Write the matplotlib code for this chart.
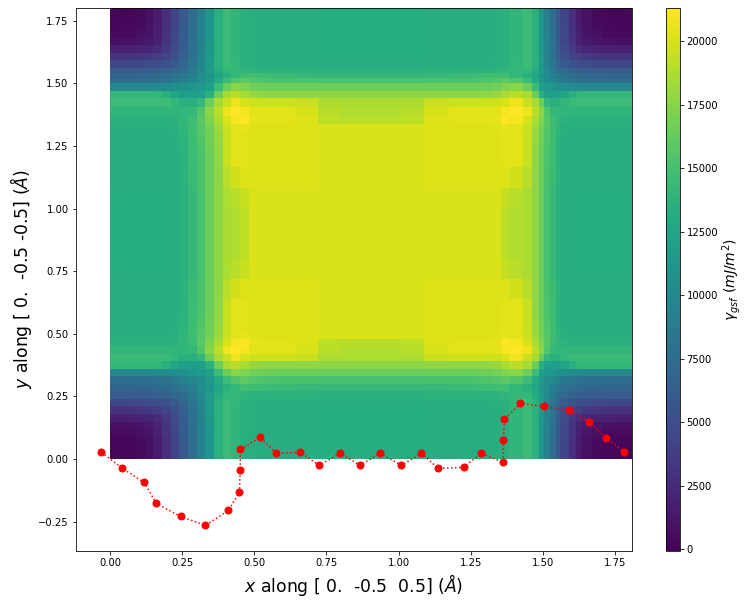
import numpy as np
import matplotlib
matplotlib.use('Agg')
import matplotlib.pyplot as plt

# cell edges of one quadrant of the gsf map, in angstrom
grid_edges = [0.00, 0.03, 0.06, 0.09, 0.12, 0.15, 0.18, 0.21, 0.24, 0.27, 0.30, 0.33,
              0.36, 0.39, 0.42, 0.45, 0.48, 0.51, 0.54, 0.57, 0.64, 0.72, 0.80, 0.86]
# the far half is not an exact mirror, so its edges are read separately
x_far_edges = [0.949, 1.009, 1.089, 1.174, 1.251, 1.284, 1.319, 1.354, 1.384, 1.430, 1.462, 1.485,
               1.505, 1.525, 1.545, 1.560, 1.589, 1.614, 1.634, 1.669, 1.704, 1.739, 1.774, 1.809]
y_far_edges = [0.943, 1.003, 1.083, 1.165, 1.239, 1.273, 1.305, 1.337, 1.368, 1.405, 1.440, 1.470,
               1.500, 1.520, 1.540, 1.563, 1.593, 1.623, 1.653, 1.683, 1.713, 1.743, 1.773, 1.803]

# gsf energy of the lower left quadrant, in 100 mJ/m^2, last row/column is the centre
gsf_quadrant = [
    [3, 2, 3, 5, 8, 15, 28, 43, 58, 75, 92, 112, 135, 145, 139, 135, 134, 133, 133, 133, 133, 132, 132, 132],
    [2, 2, 3, 5, 8, 15, 28, 43, 58, 75, 92, 112, 135, 145, 139, 135, 134, 133, 133, 133, 133, 132, 132, 132],
    [3, 3, 4, 6, 9, 16, 29, 44, 59, 75, 92, 112, 135, 145, 139, 135, 134, 133, 133, 133, 133, 132, 132, 132],
    [5, 5, 6, 8, 11, 18, 30, 45, 60, 76, 93, 112, 135, 145, 139, 135, 134, 133, 133, 133, 133, 132, 132, 132],
    [8, 8, 9, 11, 14, 20, 32, 46, 60, 76, 93, 113, 135, 145, 139, 135, 134, 133, 133, 133, 133, 132, 132, 132],
    [18, 18, 19, 20, 22, 26, 36, 48, 62, 78, 94, 113, 135, 145, 139, 135, 134, 133, 133, 133, 133, 132, 132, 132],
    [30, 30, 31, 32, 34, 38, 42, 52, 65, 80, 95, 114, 135, 145, 139, 135, 134, 133, 133, 133, 133, 132, 132, 132],
    [45, 45, 46, 47, 48, 50, 54, 60, 70, 83, 97, 115, 136, 145, 140, 136, 135, 134, 134, 134, 134, 133, 133, 133],
    [60, 60, 60, 60, 61, 63, 66, 71, 75, 87, 100, 116, 130, 140, 142, 139, 138, 137, 137, 137, 137, 136, 136, 136],
    [68, 68, 68, 69, 70, 72, 75, 80, 86, 90, 104, 112, 125, 135, 140, 148, 148, 146, 145, 144, 143, 143, 143, 143],
    [75, 75, 76, 76, 77, 79, 82, 86, 92, 100, 104, 115, 130, 145, 155, 160, 156, 154, 153, 152, 152, 151, 151, 151],
    [100, 100, 100, 100, 100, 101, 102, 105, 108, 112, 115, 120, 145, 165, 175, 172, 168, 166, 165, 165, 165, 165, 165, 165],
    [140, 140, 140, 140, 140, 140, 135, 125, 118, 118, 120, 135, 165, 185, 190, 185, 180, 178, 177, 177, 177, 177, 177, 177],
    [145, 145, 145, 145, 145, 145, 145, 140, 135, 135, 142, 165, 185, 195, 208, 200, 197, 197, 197, 197, 195, 187, 186, 186],
    [139, 139, 139, 139, 139, 139, 139, 139, 140, 142, 155, 175, 190, 208, 213, 210, 204, 204, 204, 204, 200, 190, 188, 188],
    [135, 135, 135, 135, 135, 135, 135, 137, 140, 147, 158, 172, 186, 200, 210, 213, 205, 204, 204, 204, 202, 192, 190, 190],
    [134, 134, 134, 134, 134, 134, 134, 135, 139, 146, 157, 168, 181, 196, 204, 205, 203, 202, 202, 202, 202, 201, 201, 201],
    [133, 133, 133, 133, 133, 133, 133, 134, 138, 146, 155, 167, 179, 195, 204, 204, 202, 202, 202, 202, 202, 201, 201, 201],
    [133, 133, 133, 133, 133, 133, 133, 134, 138, 146, 154, 166, 178, 195, 204, 204, 202, 202, 202, 202, 202, 201, 201, 201],
    [133, 133, 133, 133, 133, 133, 133, 134, 137, 145, 153, 165, 177, 195, 204, 204, 202, 202, 202, 202, 202, 201, 201, 201],
    [133, 133, 133, 133, 133, 133, 133, 134, 137, 144, 152, 165, 177, 190, 198, 202, 202, 202, 202, 202, 202, 201, 201, 201],
    [132, 132, 132, 132, 132, 132, 132, 133, 136, 143, 151, 165, 177, 186, 190, 194, 201, 201, 201, 201, 201, 201, 201, 201],
    [132, 132, 132, 132, 132, 132, 132, 133, 136, 143, 151, 165, 177, 186, 188, 192, 201, 201, 201, 201, 201, 201, 201, 201],
    [132, 132, 132, 132, 132, 132, 132, 133, 136, 143, 151, 165, 177, 186, 188, 192, 201, 201, 201, 201, 201, 201, 201, 201],
]
gsf_min = -60
gsf_max = 21320

# neb path
path_x = [-0.030, 0.042, 0.118, 0.160, 0.244, 0.330, 0.410, 0.448, 0.451, 0.451, 0.520,
          0.576, 0.659, 0.725, 0.798, 0.866, 0.936, 1.010, 1.079, 1.138, 1.225, 1.287,
          1.363, 1.363, 1.367, 1.422, 1.505, 1.591, 1.661, 1.720, 1.783]
path_y = [0.027, -0.037, -0.093, -0.177, -0.229, -0.265, -0.205, -0.133, -0.045, 0.039, 0.087,
          0.023, 0.027, -0.025, 0.023, -0.025, 0.023, -0.025, 0.023, -0.037, -0.033, 0.023,
          -0.013, 0.075, 0.159, 0.222, 0.210, 0.194, 0.147, 0.085, 0.027]

xticks = [0.00, 0.25, 0.50, 0.75, 1.00, 1.25, 1.50, 1.75]
yticks = [-0.25, 0.00, 0.25, 0.50, 0.75, 1.00, 1.25, 1.50, 1.75]

W, H = 751, 605


def main():
    # the map repeats mirrored about its centre
    quad = np.array(gsf_quadrant) * 100.0
    full = np.vstack([quad, quad[-2::-1]])
    full = np.hstack([full, full[:, -2::-1]])
    xe = np.array(grid_edges + x_far_edges)
    ye = np.array(grid_edges + y_far_edges)

    fig = plt.figure(figsize=(W / 72, H / 72), dpi=72)
    ax = fig.add_axes([75.5 / W, 1 - 551 / H, (632 - 75.5) / W, (551 - 7.5) / H])
    cax = fig.add_axes([665.5 / W, 1 - 551 / H, 14 / W, (551 - 7.5) / H])

    mesh = ax.pcolormesh(xe, ye, full, cmap='viridis', vmin=gsf_min, vmax=gsf_max)
    ax.plot(path_x, path_y, 'ro:', markersize=7)
    ax.set_xlim(-0.12, xe[-1])
    ax.set_ylim(-0.367, ye[-1])
    ax.set_xticks(xticks)
    ax.set_yticks(yticks)
    ax.set_xlabel(r'$x$ along [ 0.  -0.5  0.5] ($\AA$)', fontsize=17.3)
    ax.set_ylabel(r'$y$ along [ 0.  -0.5 -0.5] ($\AA$)', fontsize=17.3)

    cbar = fig.colorbar(mesh, cax=cax)
    cbar.set_label(r'$\gamma_{gsf}\ (mJ/m^2)$', fontsize=14, labelpad=2)

    fig.savefig('out.png', dpi=72)


if __name__ == '__main__':
    main()
